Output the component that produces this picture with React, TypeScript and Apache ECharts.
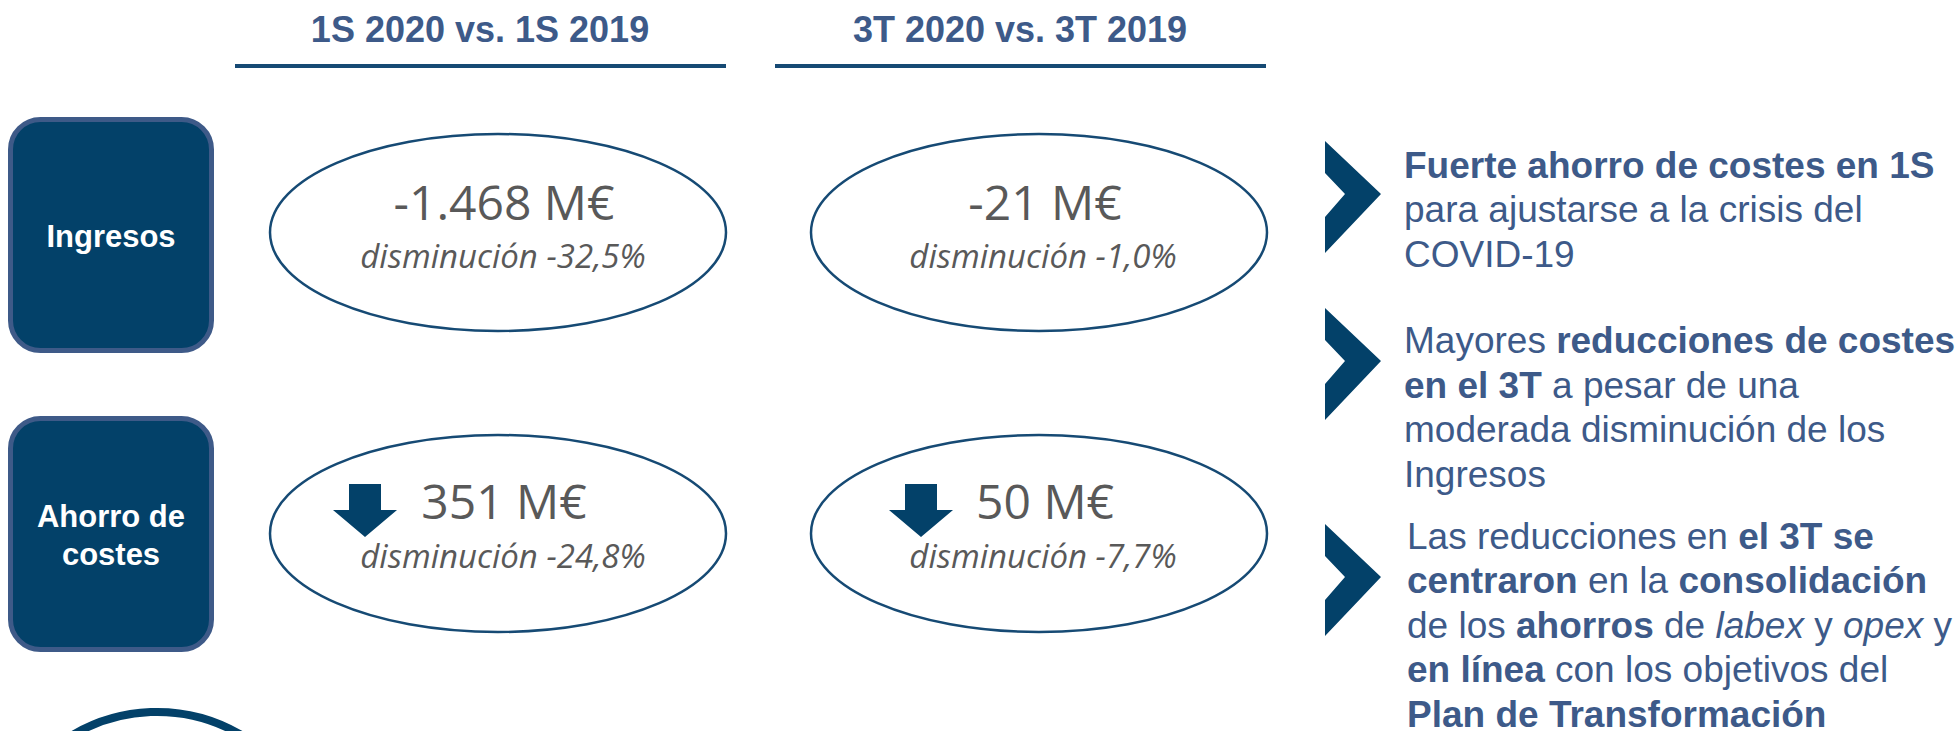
import React, { useEffect, useRef } from 'react';
import * as echarts from 'echarts';

// ---------- data ----------
const periodHeaders = ['1S 2020 vs. 1S 2019', '3T 2020 vs. 3T 2019'];
const rowLabels = [['Ingresos'], ['Ahorro de', 'costes']];
const ingresosValues = [-1468, -21]; // M€
const ingresosChangePct = [-32.5, -1.0];
const ahorroValues = [351, 50]; // M€ (reduction)
const ahorroChangePct = [-24.8, -7.7];
const changeWord = 'disminución';
const unit = 'M€';

type Seg = [string, string];
const bullet1: Seg[][] = [
  [['b', 'Fuerte ahorro de costes en 1S']],
  [['n', 'para ajustarse a la crisis del']],
  [['n', 'COVID-19']],
];
const bullet2: Seg[][] = [
  [['n', 'Mayores '], ['b', 'reducciones de costes']],
  [['b', 'en el 3T'], ['n', ' a pesar de una']],
  [['n', 'moderada disminución de los']],
  [['n', 'Ingresos']],
];
const bullet3: Seg[][] = [
  [['n', 'Las reducciones en '], ['b', 'el 3T se']],
  [['b', 'centraron'], ['n', ' en la '], ['b', 'consolidación']],
  [['n', 'de los '], ['b', 'ahorros'], ['n', ' de '], ['i', 'labex'], ['n', ' y '], ['i', 'opex'], ['n', ' y']],
  [['b', 'en línea'], ['n', ' con los objetivos del']],
  [['b', 'Plan de Transformación']],
];
const bullets = [bullet1, bullet2, bullet3];

// ---------- style / layout ----------
const NAVY = '#034169';
const BOX_BORDER = '#3e5a88';
const TEXT_BLUE = '#3d5a89';
const GRAY = '#595959';
const ELLIPSE_STROKE = '#164a74';
const ARIAL = '"Liberation Sans", Arial, Helvetica, sans-serif';
const CAL = '"Open Sans", "Noto Sans", sans-serif';

const fmtNum = (v: number) => {
  const s = Math.abs(Math.round(v)).toString().replace(/\B(?=(\d{3})+(?!\d))/g, '.');
  return (v < 0 ? '-' : '') + s;
};
const fmtPct = (v: number) => `${changeWord} ${v.toFixed(1).replace('.', ',')}%`;

function buildGraphics() {
  const els: any[] = [];
  const txt = (x: number, y: number, text: string, o: any) => ({
    type: 'text',
    x,
    y,
    silent: true,
    style: {
      text,
      align: o.align || 'center',
      verticalAlign: 'middle',
      textAlign: o.align || 'center',
      textVerticalAlign: 'middle',
      fill: o.fill,
      fontFamily: o.fontFamily,
      fontSize: o.fontSize,
      fontWeight: o.fontWeight || 'normal',
      fontStyle: o.fontStyle || 'normal',
    },
  });

  // headers
  const headerX = [480, 1020];
  const underline = [[235, 726], [775, 1266]];
  periodHeaders.forEach((h, i) => {
    els.push(txt(headerX[i], 29.5, h, { fill: TEXT_BLUE, fontFamily: ARIAL, fontSize: 36, fontWeight: 'bold' }));
    els.push({
      type: 'line',
      shape: { x1: underline[i][0], y1: 66, x2: underline[i][1], y2: 66 },
      style: { stroke: ELLIPSE_STROKE, lineWidth: 4 },
    });
  });

  // row boxes
  const boxTop = [119.5, 418.5];
  rowLabels.forEach((lines, r) => {
    els.push({
      type: 'rect',
      shape: { x: 10.5, y: boxTop[r], width: 201, height: 231, r: 30 },
      style: { fill: NAVY, stroke: BOX_BORDER, lineWidth: 5 },
    });
    const lh = 38;
    const mid = boxTop[r] + 115.5 + 1;
    lines.forEach((ln, k) => {
      const y = mid + (k - (lines.length - 1) / 2) * lh;
      els.push(txt(111, y, ln, { fill: '#ffffff', fontFamily: ARIAL, fontSize: 31, fontWeight: 'bold' }));
    });
  });

  // ellipses
  const colCx = [498, 1039];
  const rowCy = [232.5, 533.5];
  const valueX = [504, 1045];
  const pctX = [503, 1043];
  for (let r = 0; r < 2; r++) {
    for (let c = 0; c < 2; c++) {
      els.push({
        type: 'ellipse',
        shape: { cx: colCx[c], cy: rowCy[r], rx: 228, ry: 98.5 },
        style: { fill: '#ffffff', stroke: ELLIPSE_STROKE, lineWidth: 2.5 },
      });
      const valueText = r === 0 ? `${fmtNum(ingresosValues[c])} ${unit}` : `${fmtNum(ahorroValues[c])} ${unit}`;
      const pctText = r === 0 ? fmtPct(ingresosChangePct[c]) : fmtPct(ahorroChangePct[c]);
      const valueBase = r === 0 ? 220 : 519;
      const pctBase = r === 0 ? 268 : 568;
      els.push(txt(valueX[c], valueBase - 18.6, valueText, { fill: GRAY, fontFamily: CAL, fontSize: 48 }));
      els.push(txt(pctX[c], pctBase - 12.8, pctText, { fill: GRAY, fontFamily: CAL, fontSize: 33, fontStyle: 'italic' }));
    }
  }

  // down arrows (row 2)
  const arrowCx = [365, 921];
  arrowCx.forEach((ax) => {
    els.push({
      type: 'polygon',
      shape: {
        points: [
          [ax - 16, 484], [ax + 16, 484], [ax + 16, 510], [ax + 32, 510],
          [ax, 537], [ax - 32, 510], [ax - 16, 510],
        ],
      },
      style: { fill: NAVY },
    });
  });

  // bottom-left circle (partly visible)
  els.push({
    type: 'circle',
    shape: { cx: 157, cy: 878, r: 166 },
    style: { fill: 'none', stroke: NAVY, lineWidth: 8 },
  });

  // chevrons + bullet texts
  const chevTop = [141, 308, 524];
  const firstBase = [178, 353.5, 549];
  const textX = [1404, 1404, 1407];
  const LH = 44.6;
  const FS = 37;
  const rich = {
    n: { fontFamily: ARIAL, fontSize: FS, fill: TEXT_BLUE, lineHeight: LH },
    b: { fontFamily: ARIAL, fontSize: FS, fill: TEXT_BLUE, fontWeight: 'bold', lineHeight: LH },
    i: { fontFamily: ARIAL, fontSize: FS, fill: TEXT_BLUE, fontStyle: 'italic', lineHeight: LH },
  };
  bullets.forEach((lines, bi) => {
    const x0 = 1325;
    const y0 = chevTop[bi];
    els.push({
      type: 'polygon',
      shape: {
        points: [
          [x0, y0], [x0 + 56, y0 + 53], [x0, y0 + 112], [x0, y0 + 76], [x0 + 20, y0 + 53], [x0, y0 + 32],
        ],
      },
      style: { fill: NAVY },
    });
    lines.forEach((segs, li) => {
      const text = segs.map(([s, t]) => `{${s}|${t}}`).join('');
      const base = firstBase[bi] + li * LH;
      els.push({
        type: 'text',
        x: textX[bi],
        y: base - 0.3465 * FS,
        silent: true,
        style: {
          text,
          rich,
          align: 'left',
          verticalAlign: 'middle',
          textAlign: 'left',
          textVerticalAlign: 'middle',
          fill: TEXT_BLUE,
          fontFamily: ARIAL,
          fontSize: FS,
        },
      });
    });
  });

  return els;
}

export default function App() {
  const ref = useRef<HTMLDivElement>(null);
  useEffect(() => {
    if (!ref.current) return;
    const chart = echarts.init(ref.current, undefined, { renderer: 'svg' });
    chart.setOption({
      animation: false,
      backgroundColor: '#ffffff',
      graphic: { elements: buildGraphics() },
    });
    return () => chart.dispose();
  }, []);
  return (
    <div
      ref={ref}
      style={{ position: 'fixed', left: 0, top: 0, width: '1959px', height: '731px', overflow: 'hidden' }}
    />
  );
}
